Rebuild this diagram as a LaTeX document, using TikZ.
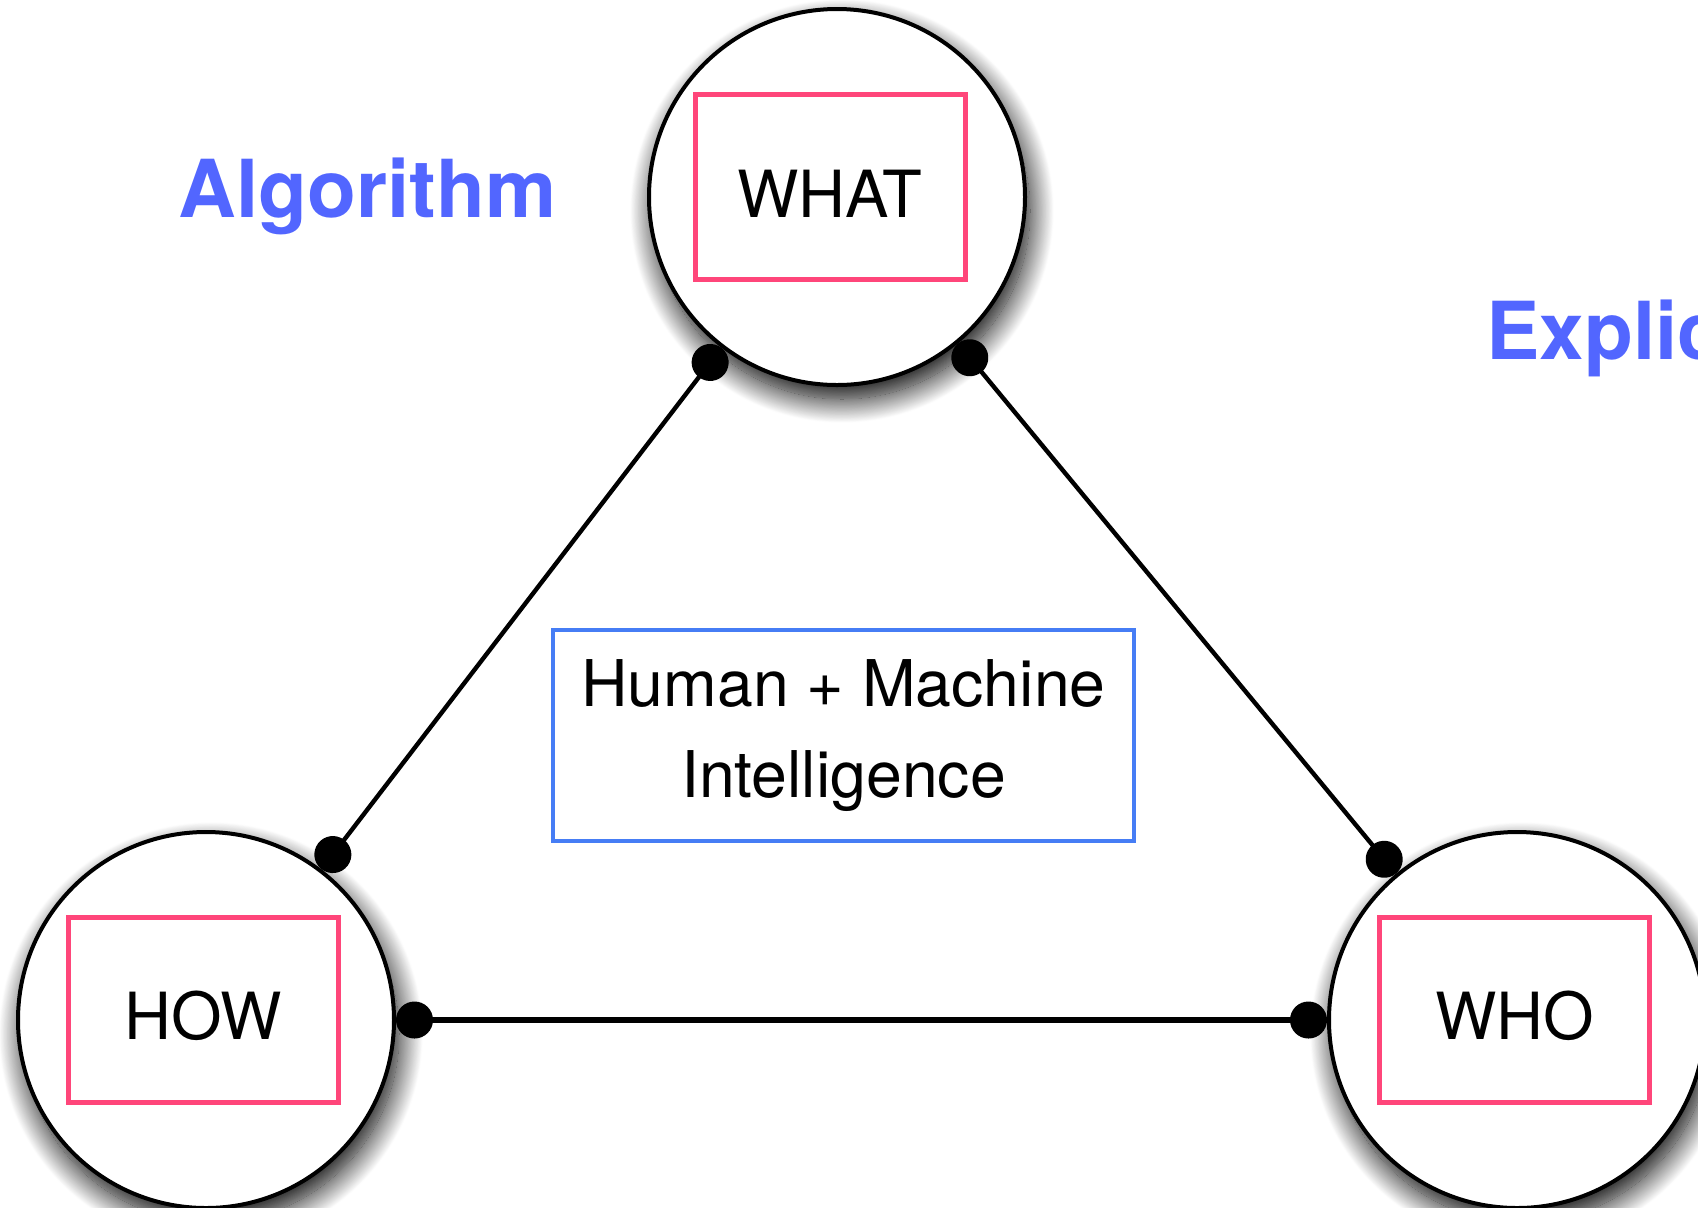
\documentclass[tikz,border=0pt]{standalone}
\usepackage{fontspec}
\setmainfont{TeX Gyre Heros}
\usetikzlibrary{arrows.meta,shadows.blur}
\definecolor{pinkc}{RGB}{255,70,122}
\definecolor{bluebox}{RGB}{70,125,245}
\definecolor{headc}{RGB}{82,102,255}
\begin{document}
\begin{tikzpicture}[x=0.5pt,y=-0.5pt,
  bubble/.style={circle, draw=black, line width=2pt, fill=white, minimum size=188pt, inner sep=0pt,
    blur shadow={shadow xshift=2.5pt, shadow yshift=-7pt, shadow blur radius=12pt, shadow blur steps=30, shadow opacity=100}},
  tag/.style={draw=pinkc, line width=2.5pt, minimum width=135pt, minimum height=92.5pt, inner sep=0pt,
    font=\fontsize{32.5}{39}\selectfont, text height=30pt, text depth=0pt},
  link/.style={line width=2.2pt, {Circle[length=18.5pt]}-{Circle[length=18.5pt]}},
  heading/.style={text=headc, font=\fontsize{40}{48}\selectfont\bfseries, inner sep=0pt, anchor=base west},
  corebox/.style={draw=bluebox, line width=2pt, minimum width=290.5pt, minimum height=105.5pt, align=center,
    font=\fontsize{32.2}{45.5}\selectfont, inner sep=0pt}]
\useasboundingbox (0,0) rectangle (1698,1207);
\node[bubble] (what) at (837,197) {};
\node[bubble] (how) at (206,1020) {};
\node[bubble] (who) at (1517,1020) {};
\draw[link] (what) -- (how);
\draw[link] (what) -- (who);
\draw[link, line width=3pt] (how) -- (who);
\node[tag] (whatlbl) at (830,187) {WHAT};
\node[tag] (howlbl) at (203,1009.5) {HOW};
\node[tag] (wholbl) at (1514.5,1009.5) {WHO};
\node[corebox] (core) at (843.5,735.5) {Human + Machine\\Intelligence};
\node[heading] (algo) at (178,217) {Algorithm};
\node[heading] (expl) at (1486,359) {Explic};
\end{tikzpicture}
\end{document}
